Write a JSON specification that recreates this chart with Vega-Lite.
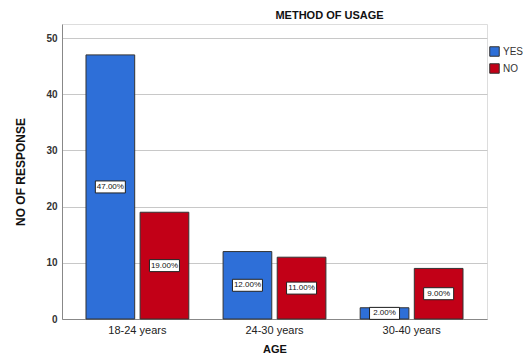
{
  "$schema": "https://vega.github.io/schema/vega-lite/v6.json",
  "autosize": "none",
  "width": 425,
  "height": 295,
  "padding": {"left": 62, "top": 24, "right": 36, "bottom": 41},
  "background": "white",
  "title": {"text": "METHOD OF USAGE", "font": "Liberation Sans", "fontSize": 11, "fontWeight": "bold", "color": "#111", "anchor": "middle", "dx": 55, "offset": 3},
  "data": {"values": [
    {"age": "18-24 years", "usage": "YES", "count": 47},
    {"age": "18-24 years", "usage": "NO", "count": 19},
    {"age": "24-30 years", "usage": "YES", "count": 12},
    {"age": "24-30 years", "usage": "NO", "count": 11},
    {"age": "30-40 years", "usage": "YES", "count": 2},
    {"age": "30-40 years", "usage": "NO", "count": 9}
  ]},
  "transform": [
    {"calculate": "datum.count / 2", "as": "mid"},
    {"calculate": "datum.count / 100", "as": "share"}
  ],
  "encoding": {
    "x": {"field": "age", "type": "nominal", "sort": null,
      "scale": {"paddingInner": 0.25, "paddingOuter": 0.175},
      "axis": {"title": "AGE", "labelAngle": 0, "labelFont": "Liberation Sans", "labelFontSize": 11, "labelColor": "#222", "labelPadding": 5, "ticks": false, "domainColor": "#888", "titleFont": "Liberation Sans", "titleFontSize": 11, "titleFontWeight": "bold", "titleColor": "#111", "titlePadding": 8}},
    "xOffset": {"field": "usage", "type": "nominal", "sort": ["YES", "NO"], "scale": {"paddingInner": 0.1, "paddingOuter": 0}}
  },
  "layer": [
    {
      "mark": {"type": "bar", "stroke": "#333", "strokeWidth": 1},
      "encoding": {
        "y": {"field": "count", "type": "quantitative", "scale": {"domain": [0, 52.5], "nice": false},
          "axis": {"title": "NO OF RESPONSE", "values": [0, 10, 20, 30, 40, 50], "labelFont": "Liberation Sans", "labelFontSize": 10, "labelFontWeight": "bold", "labelColor": "#333", "ticks": false, "labelPadding": 5, "domainColor": "#888", "gridColor": "#c8c8c8", "titleFont": "Liberation Sans", "titleFontSize": 12, "titleFontWeight": "bold", "titleColor": "#111", "titlePadding": 18}},
        "color": {"field": "usage", "type": "nominal", "sort": ["YES", "NO"],
          "scale": {"domain": ["YES", "NO"], "range": ["#2E6FD8", "#C20017"]},
          "legend": {"title": null, "orient": "none", "legendX": 427, "legendY": 22, "symbolType": "square", "symbolSize": 90, "symbolStrokeColor": "#333", "symbolStrokeWidth": 1, "labelFont": "Liberation Sans", "labelFontSize": 10, "labelColor": "#333", "rowPadding": 2, "labelOffset": 3}}
      }
    },
    {
      "mark": {"type": "point", "shape": "M-1,-0.4H1V0.4H-1Z", "size": 900, "filled": true, "fill": "white", "stroke": "#222", "strokeWidth": 1, "opacity": 1},
      "encoding": {"y": {"field": "mid", "type": "quantitative"}}
    },
    {
      "mark": {"type": "text", "font": "Liberation Sans", "fontSize": 8, "color": "#111", "baseline": "middle", "align": "center"},
      "encoding": {
        "y": {"field": "mid", "type": "quantitative"},
        "text": {"field": "share", "type": "quantitative", "format": ".2%"}
      }
    }
  ]
}
